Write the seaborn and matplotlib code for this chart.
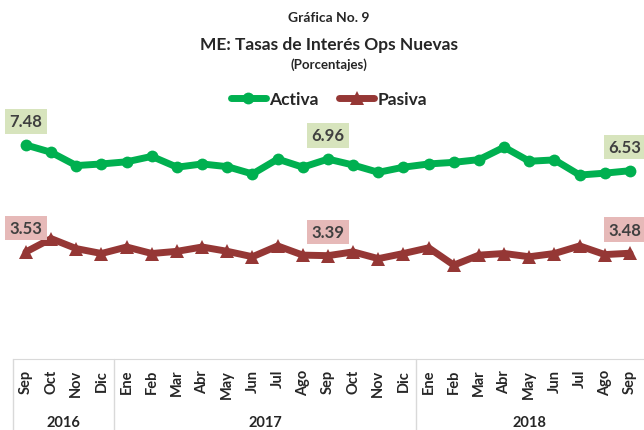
import matplotlib
matplotlib.use("Agg")
import matplotlib.pyplot as plt
import pandas as pd
import seaborn as sns

# datos
meses = ["Sep", "Oct", "Nov", "Dic",
         "Ene", "Feb", "Mar", "Abr", "May", "Jun", "Jul", "Ago", "Sep", "Oct", "Nov", "Dic",
         "Ene", "Feb", "Mar", "Abr", "May", "Jun", "Jul", "Ago", "Sep"]
anios = ["2016", "2017", "2018"]
meses_por_anio = [4, 12, 9]

activa = [7.48, 7.21, 6.72, 6.78, 6.86, 7.06, 6.66, 6.78, 6.68, 6.41, 6.96, 6.66,
          6.96, 6.74, 6.47, 6.66, 6.78, 6.84, 6.94, 7.40, 6.88, 6.93, 6.37, 6.44, 6.53]
pasiva = [3.53, 4.02, 3.65, 3.47, 3.71, 3.47, 3.55, 3.71, 3.55, 3.35, 3.75, 3.41,
          3.39, 3.53, 3.28, 3.47, 3.68, 3.04, 3.41, 3.47, 3.35, 3.47, 3.75, 3.43, 3.48]
etiquetas = [0, 12, 24]  # puntos con etiqueta de dato

verde = "#00b050"
rojo = "#953735"

sns.set_style("white")
plt.rcParams["font.family"] = ["Lato", "DejaVu Sans"]
plt.rcParams["font.weight"] = "bold"

df = pd.DataFrame({"i": range(len(meses)), "Activa": activa, "Pasiva": pasiva})

fig = plt.figure(figsize=(6.44, 4.31), dpi=100)
ax = fig.add_axes([0.0208, 0.1647, 0.977, 0.580])

sns.lineplot(data=df, x="i", y="Activa", ax=ax, color=verde, lw=5,
             marker="o", markersize=8.5, markeredgewidth=0, label="Activa")
sns.lineplot(data=df, x="i", y="Pasiva", ax=ax, color=rojo, lw=5,
             marker="^", markersize=10, markeredgewidth=0, label="Pasiva")

ax.set_xlim(-0.5, len(meses) - 0.5)
ax.set_ylim(-0.43, 8.81)
ax.set_xlabel("")
ax.set_ylabel("")
ax.set_yticks([])
ax.set_xticks(range(len(meses)))
ax.set_xticklabels(meses, rotation=90, fontsize=10.5, fontweight="bold")
ax.tick_params(axis="x", length=0, pad=7)
for s in ["top", "right", "left"]:
    ax.spines[s].set_visible(False)
ax.spines["bottom"].set_color("#d9d9d9")

# etiquetas de datos
for serie, fondo in [(activa, "#d7e4bd"), (pasiva, "#e6b9b8")]:
    for i in etiquetas:
        dx = -4 if i == len(meses) - 1 else 0
        ax.annotate(f"{serie[i]:.2f}", (i, serie[i]), xytext=(dx, 17),
                    textcoords="offset points", ha="center", va="center",
                    fontsize=12, fontweight="bold", color="#404040",
                    bbox=dict(boxstyle="square,pad=0.25", fc=fondo, ec="none"),
                    annotation_clip=False)

# eje de categorias con anios
trans = ax.get_xaxis_transform()
inicio = 0
cortes = [-0.5]
for anio, n in zip(anios, meses_por_anio):
    centro = inicio + (n - 1) / 2
    ax.text(centro, -0.252, anio, transform=trans, ha="center", va="center",
            fontsize=10.5, fontweight="bold")
    inicio += n
    cortes.append(inicio - 0.5)
for c in cortes[:-1]:
    ax.plot([c, c], [0, -0.3], transform=trans, color="#d9d9d9", lw=1, clip_on=False)

# titulos
fig.text(0.511, 0.958, "Gráfica No. 9", ha="center", va="center", fontsize=10, fontweight="bold")
fig.text(0.511, 0.895, "ME: Tasas de Interés Ops Nuevas", ha="center", va="center",
         fontsize=12.5, fontweight="bold")
fig.text(0.511, 0.849, "(Porcentajes)", ha="center", va="center", fontsize=9.5, fontweight="bold")

ax.legend(loc="center", bbox_to_anchor=(0.511, 0.768), bbox_transform=fig.transFigure,
          ncol=2, frameon=False, handlelength=2.0, handletextpad=0.2,
          columnspacing=1.2, prop={"weight": "bold", "size": 12.5})

fig.savefig("out.png", dpi=100)
